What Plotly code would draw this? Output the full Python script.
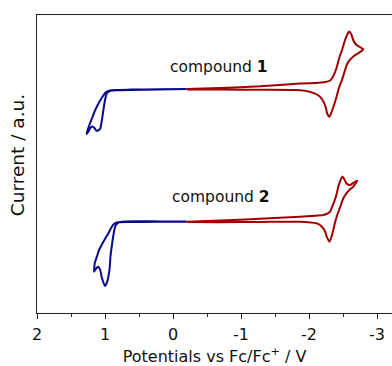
import plotly.graph_objects as go

# ---- data (potential in V vs Fc/Fc+, current in a.u. relative to each baseline) ----
c1_ox_E = [-0.20, 0.21, 0.63, 0.85, 0.93, 0.99, 1.04, 1.10, 1.15, 1.19, 1.23, 1.26, 1.27,
           1.24, 1.21, 1.18, 1.15, 1.13, 1.10, 1.07, 1.05, 1.03, 1.01, 0.99, 0.97, 0.93,
           0.84, 0.63, 0.21, -0.20]
c1_ox_I = [0.0, -0.03, -0.06, -0.09, -0.15, -0.35, -0.8, -1.5, -2.2, -2.9, -3.6, -4.2, -4.5,
           -4.2, -3.85, -3.75, -3.95, -4.15, -4.15, -3.95, -3.3, -2.4, -1.5, -0.8, -0.4, -0.2,
           -0.13, -0.09, -0.06, -0.03]

c1_red_E = [-0.20, -0.69, -1.28, -1.87, -2.09, -2.24, -2.31, -2.35, -2.40, -2.44, -2.49,
            -2.53, -2.56, -2.59, -2.62, -2.65, -2.68, -2.72, -2.76, -2.80,
            -2.76, -2.72, -2.66, -2.60, -2.56, -2.53, -2.49, -2.44, -2.40, -2.36, -2.32,
            -2.30, -2.27, -2.24, -2.19, -2.13, -2.01, -1.87, -1.28, -0.69, -0.20]
c1_red_I = [0.0, 0.1, 0.27, 0.55, 0.6, 0.7, 0.85, 1.2, 2.0, 3.0, 4.0,
            4.9, 5.4, 5.75, 5.5, 4.9, 4.55, 4.3, 4.15, 3.97,
            3.75, 3.55, 3.3, 2.9, 2.5, 1.9, 1.0, 0.1, -0.9, -1.77, -2.5,
            -2.77, -2.5, -1.7, -1.0, -0.6, -0.27, -0.12, -0.08, -0.06, -0.04]

c2_ox_E = [-0.20, 0.21, 0.63, 0.81, 0.87, 0.91, 0.95, 1.00, 1.05, 1.09, 1.12, 1.15, 1.16,
           1.13, 1.10, 1.07, 1.05, 1.02, 1.00, 0.98, 0.95, 0.93, 0.92, 0.90, 0.88, 0.86,
           0.84, 0.81, 0.75, 0.56, 0.21, -0.20]
c2_ox_I = [0.03, 0.02, 0.0, -0.03, -0.2, -0.6, -1.13, -1.7, -2.3, -2.85, -3.47, -4.1, -4.97,
           -4.65, -4.47, -4.8, -5.47, -6.1, -6.4, -6.2, -5.47, -4.5, -3.47, -2.4, -1.47, -0.7,
           -0.3, -0.08, 0.02, 0.07, 0.06, 0.04]

c2_red_E = [-0.20, -0.69, -1.28, -1.87, -2.09, -2.21, -2.26, -2.31, -2.35, -2.38, -2.41,
            -2.43, -2.46, -2.49, -2.51, -2.55, -2.59, -2.62, -2.66, -2.71,
            -2.68, -2.65, -2.60, -2.55, -2.50, -2.46, -2.42, -2.38, -2.35, -2.32, -2.30,
            -2.28, -2.26, -2.24, -2.21, -2.16, -2.11, -1.87, -1.28, -0.69, -0.20]
c2_red_I = [0.03, 0.15, 0.32, 0.53, 0.62, 0.7, 0.8, 1.03, 1.7, 2.2, 2.9,
            3.53, 4.1, 4.55, 4.4, 3.87, 3.7, 3.75, 3.95, 4.13,
            3.8, 3.53, 3.25, 2.87, 2.3, 1.53, 0.8, -0.13, -1.0, -1.7, -1.97,
            -1.75, -1.47, -1.0, -0.63, -0.3, -0.13, 0.03, 0.0, -0.02, 0.0]

offsets = {"1": 22.4, "2": 9.1}
labels = ["compound <b>1</b>", "compound <b>2</b>"]
label_E = [-0.68, -0.70]
label_I = [24.6, 11.6]

tick_vals = [2, 1, 0, -1, -2, -3]
tick_text = ["2", "1", "0", "-1", "-2", "-3"]

BLUE = "#0a0a8c"
RED = "#a00000"
FONT = "DejaVu Sans"

fig = go.Figure()

def add(E, I, off, color):
    fig.add_trace(go.Scatter(
        x=E, y=[v + off for v in I], mode="lines",
        line=dict(color=color, width=2, shape="spline", smoothing=0.6),
        showlegend=False, hoverinfo="skip"))

add(c1_red_E, c1_red_I, offsets["1"], RED)
add(c1_ox_E, c1_ox_I, offsets["1"], BLUE)
add(c2_red_E, c2_red_I, offsets["2"], RED)
add(c2_ox_E, c2_ox_I, offsets["2"], BLUE)

for txt, xe, yi in zip(labels, label_E, label_I):
    fig.add_annotation(x=xe, y=yi, text=txt, showarrow=False,
                       font=dict(family=FONT, size=15.5, color="#111"))

# y-axis title (rotated text)
fig.add_annotation(xref="paper", yref="paper", x=-0.056, y=0.53,
                   xanchor="center", yanchor="middle", textangle=-90,
                   text="Current / a.u.", showarrow=False,
                   font=dict(family=FONT, size=18.5, color="#111"))

fig.update_layout(
    width=392, height=366,
    margin=dict(l=37, r=0, t=15, b=53),
    paper_bgcolor="white", plot_bgcolor="white",
    font=dict(family=FONT, size=16, color="#111"),
)
fig.update_xaxes(
    range=[2, -3.2206], showgrid=False, zeroline=False, automargin=False,
    showline=True, linecolor="#222", linewidth=1.2, mirror=True,
    ticks="outside", ticklen=5, tickwidth=1, tickcolor="#222",
    tickvals=tick_vals, ticktext=tick_text,
    minor=dict(dtick=0.5, ticks="outside", ticklen=3, tickwidth=1, tickcolor="#222"),
    tickfont=dict(family=FONT, size=16), ticklabelstandoff=2,
    title=dict(text="Potentials vs Fc/Fc<sup>+</sup> / V", font=dict(family=FONT, size=16), standoff=11),
)
fig.update_yaxes(
    range=[0, 29.8], showgrid=False, zeroline=False, automargin=False,
    showline=True, linecolor="#222", linewidth=1.2, mirror=False,
    showticklabels=False, ticks="",
)

fig.write_html("out.html", post_script="document.body.style.margin='0';",
               config={"displayModeBar": False})
